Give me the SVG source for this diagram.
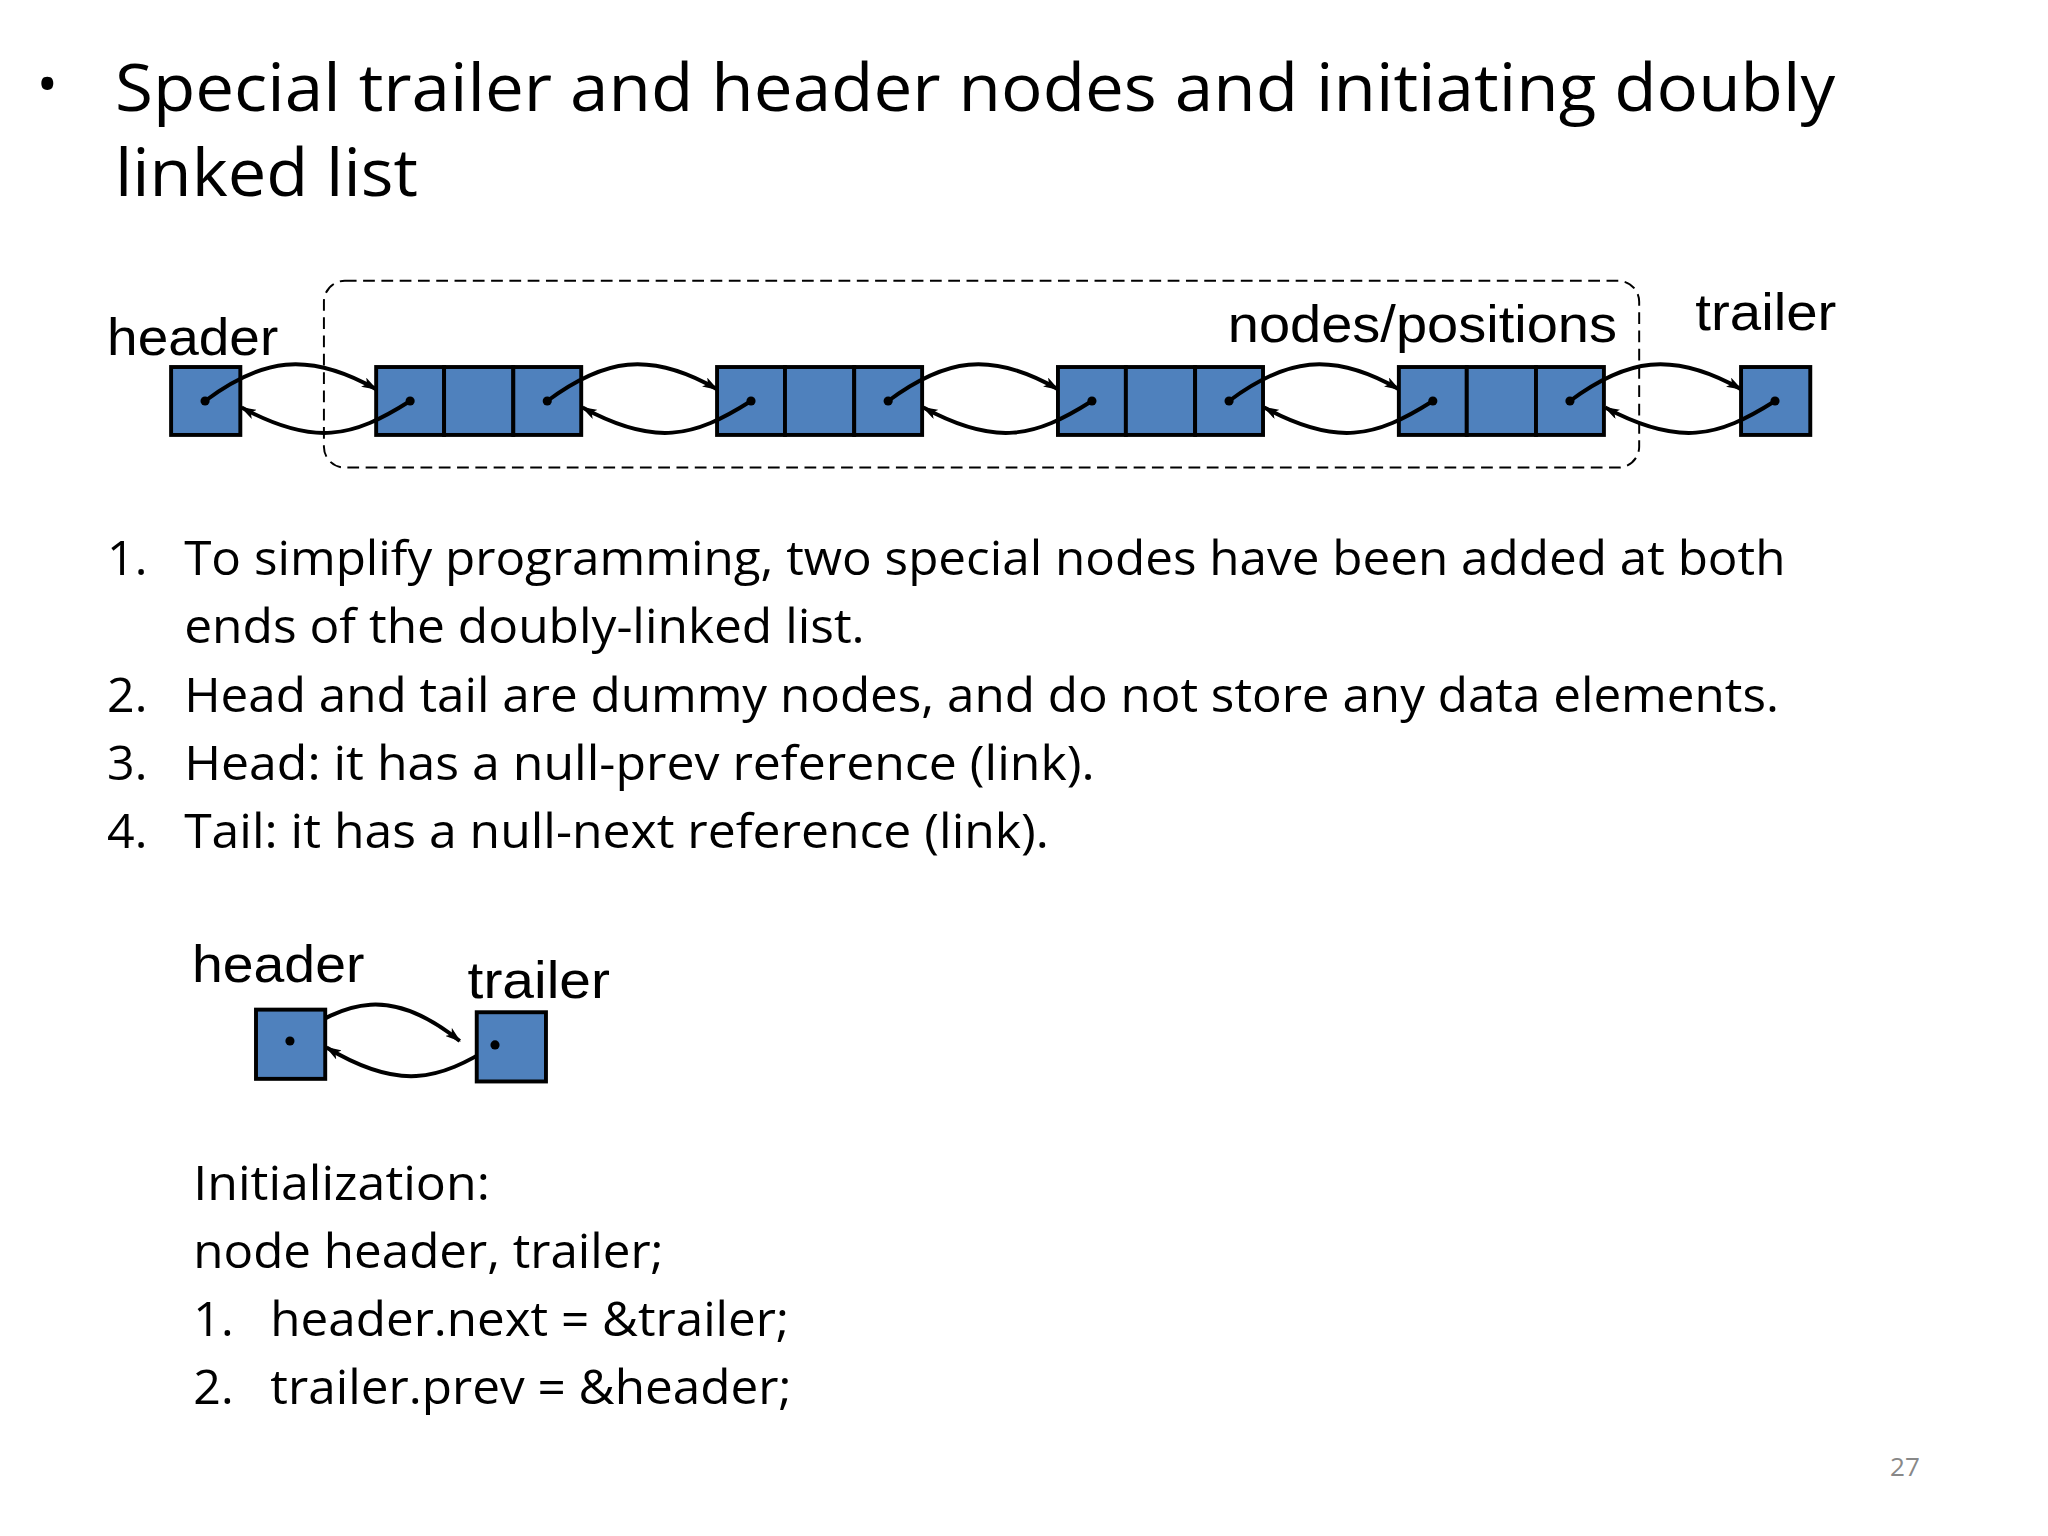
<svg xmlns="http://www.w3.org/2000/svg" width="2048" height="1536" viewBox="0 0 2048 1536">
<style>
.t{font-family:"Open Sans","Liberation Sans",sans-serif;fill:#000}
.f{font-family:"Liberation Sans Narrow","Liberation Sans",sans-serif;font-size:40px;fill:#000}
.b{fill:#4f81bd;stroke:#000;stroke-width:3}
.c{fill:none;stroke:#000;stroke-width:3;marker-end:url(#a)}
</style>
<defs>
<marker id="a" viewBox="0 0 12 8" refX="11" refY="4" markerWidth="12" markerHeight="8" markerUnits="userSpaceOnUse" orient="auto"><path d="M0,0 L12,4 L0,8 L3,4 Z" fill="#000"/></marker>
</defs>
<rect width="2048" height="1536" fill="#fff"/>
<g transform="scale(1.30612)">
<g id="title">
<text class="t" x="28" y="80" font-size="44">•</text>
<text class="t" x="88" y="85" font-size="50" textLength="1317" lengthAdjust="spacingAndGlyphs">Special trailer and header nodes and initiating doubly</text>
<text class="t" x="88" y="150" font-size="50" textLength="232" lengthAdjust="spacingAndGlyphs">linked list</text>
</g>
<g id="group-box"><rect x="248" y="215" width="1007" height="143" rx="16" fill="none" stroke="#000" stroke-width="1.5" stroke-dasharray="9,5"/>
<text class="f" x="940" y="262" textLength="298" lengthAdjust="spacingAndGlyphs">nodes/positions</text></g>
<g id="header"><text class="f" x="82" y="272" textLength="131" lengthAdjust="spacingAndGlyphs">header</text>
<rect class="b" x="131" y="281" width="53" height="52"/><circle cx="157" cy="307" r="3.5"/></g>
<g id="n1"><rect class="b" x="288" y="281" width="52" height="52"/><rect class="b" x="340" y="281" width="53" height="52"/><rect class="b" x="393" y="281" width="52" height="52"/><circle cx="314" cy="307" r="3.5"/><circle cx="419" cy="307" r="3.5"/></g>
<g id="n2"><rect class="b" x="549" y="281" width="52" height="52"/><rect class="b" x="601" y="281" width="53" height="52"/><rect class="b" x="654" y="281" width="52" height="52"/><circle cx="575" cy="307" r="3.5"/><circle cx="680" cy="307" r="3.5"/></g>
<g id="n3"><rect class="b" x="810" y="281" width="52" height="52"/><rect class="b" x="862" y="281" width="53" height="52"/><rect class="b" x="915" y="281" width="52" height="52"/><circle cx="836" cy="307" r="3.5"/><circle cx="941" cy="307" r="3.5"/></g>
<g id="n4"><rect class="b" x="1071" y="281" width="52" height="52"/><rect class="b" x="1123" y="281" width="53" height="52"/><rect class="b" x="1176" y="281" width="52" height="52"/><circle cx="1097" cy="307" r="3.5"/><circle cx="1202" cy="307" r="3.5"/></g>
<g id="trailer"><text class="f" x="1298" y="253" textLength="108" lengthAdjust="spacingAndGlyphs">trailer</text>
<rect class="b" x="1333" y="281" width="53" height="52"/><circle cx="1359" cy="307" r="3.5"/></g>
<g id="connectors">
<path class="c" d="M157,307 C200,275 235,268 288,298"/><path class="c" d="M314,307 C270,335 240,342 185,312"/>
<path class="c" d="M419,307 C462,275 497,268 549,298"/><path class="c" d="M575,307 C531,335 501,342 446,312"/>
<path class="c" d="M680,307 C723,275 758,268 810,298"/><path class="c" d="M836,307 C792,335 762,342 707,312"/>
<path class="c" d="M941,307 C984,275 1019,268 1071,298"/><path class="c" d="M1097,307 C1053,335 1023,342 968,312"/>
<path class="c" d="M1202,307 C1245,275 1280,268 1333,298"/><path class="c" d="M1359,307 C1315,335 1285,342 1229,312"/>
<path class="c" d="M222,797 C265,765 300,755 352,797"/><path class="c" d="M379,800 C335,828 305,835 250,802"/>
</g>
<g id="list" class="t" font-size="37">
<text class="t" x="82" y="440">1.</text><text class="t" x="141" y="440" textLength="1226" lengthAdjust="spacingAndGlyphs">To simplify programming, two special nodes have been added at both</text>
<text class="t" x="141" y="492" textLength="521" lengthAdjust="spacingAndGlyphs">ends of the doubly-linked list.</text>
<text class="t" x="82" y="545">2.</text><text class="t" x="141" y="545" textLength="1221" lengthAdjust="spacingAndGlyphs">Head and tail are dummy nodes, and do not store any data elements.</text>
<text class="t" x="82" y="597">3.</text><text class="t" x="141" y="597" textLength="697" lengthAdjust="spacingAndGlyphs">Head: it has a null-prev reference (link).</text>
<text class="t" x="82" y="649">4.</text><text class="t" x="141" y="649" textLength="662" lengthAdjust="spacingAndGlyphs">Tail: it has a null-next reference (link).</text>
</g>
<g id="header2"><text class="f" x="147" y="752" textLength="132" lengthAdjust="spacingAndGlyphs">header</text>
<rect class="b" x="196" y="773" width="53" height="53"/><circle cx="222" cy="797" r="3.5"/></g>
<g id="trailer2"><text class="f" x="358" y="764" textLength="109" lengthAdjust="spacingAndGlyphs">trailer</text>
<rect class="b" x="365" y="775" width="53" height="53"/><circle cx="379" cy="800" r="3.5"/></g>
<g id="init" font-size="37">
<text class="t" x="148" y="919" font-size="37" textLength="227" lengthAdjust="spacingAndGlyphs">Initialization:</text>
<text class="t" x="148" y="971" font-size="37" textLength="360" lengthAdjust="spacingAndGlyphs">node header, trailer;</text>
<text class="t" x="148" y="1023" font-size="37">1.</text><text class="t" x="207" y="1023" font-size="37" textLength="397" lengthAdjust="spacingAndGlyphs">header.next = &amp;trailer;</text>
<text class="t" x="148" y="1075" font-size="37">2.</text><text class="t" x="207" y="1075" font-size="37" textLength="399" lengthAdjust="spacingAndGlyphs">trailer.prev = &amp;header;</text>
</g>
<text x="1447" y="1130" font-family="Open Sans,sans-serif" font-size="20" fill="#888">27</text>
</g>
</svg>
